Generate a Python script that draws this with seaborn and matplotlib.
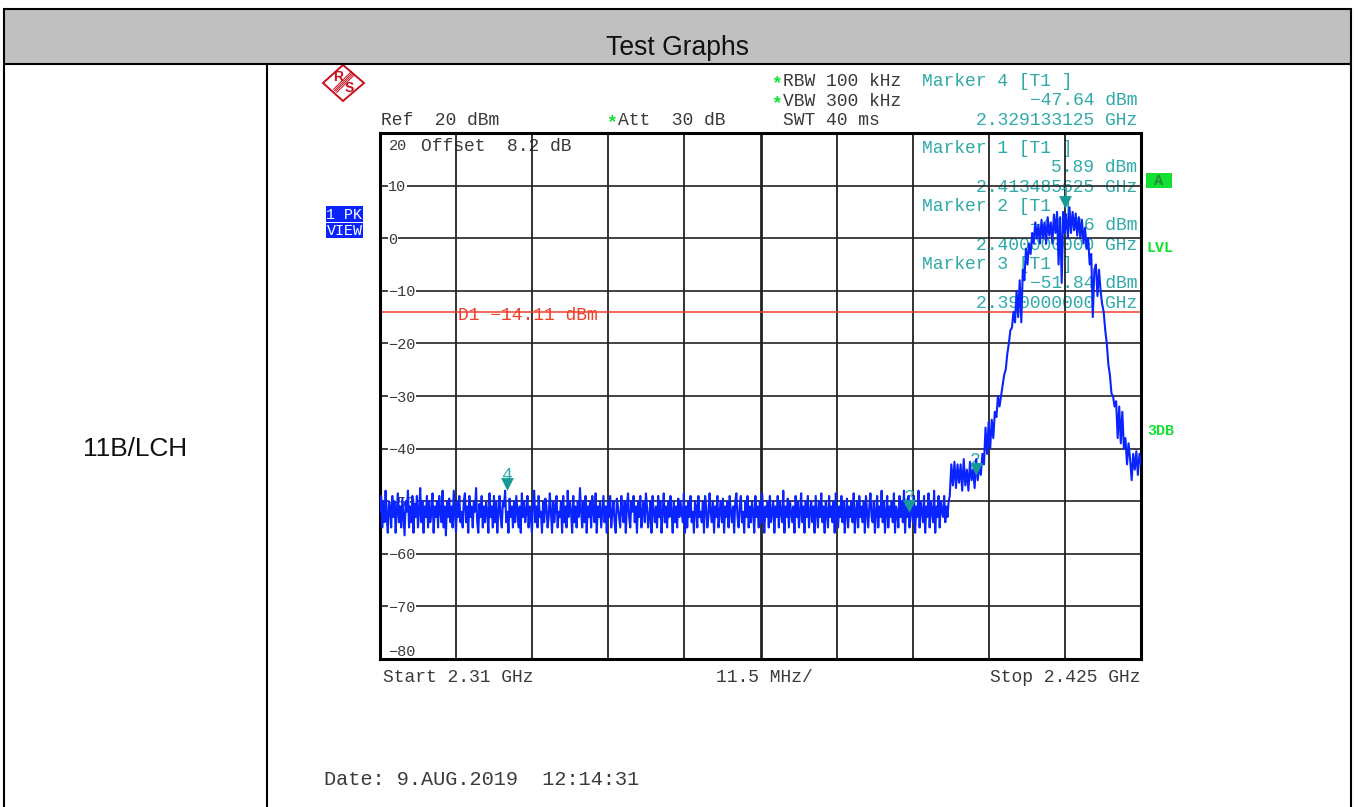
import numpy as np
import pandas as pd
import matplotlib
matplotlib.use("Agg")
import matplotlib.pyplot as plt
from matplotlib.patches import Rectangle, Polygon
import seaborn as sns

y_levels = [20, 10, 0, -10, -20, -30, -40, -50, -60, -70, -80]
y_labels = ["", "10", "0", "\u221210", "\u221220", "\u221230", "\u221240", "\u221250", "\u221260", "\u221270", "\u221280"]
x_divisions = [2.3215, 2.333, 2.3445, 2.356, 2.3675, 2.379, 2.3905, 2.402, 2.4135]
start_ghz, knee_ghz, stop_ghz = 2.31, 2.3961, 2.425
display_line_dbm = -14.11
marker_freq = [2.413485625, 2.4, 2.39, 2.329133125]
marker_level = [5.89, -44.86, -51.84, -47.64]
marker_name = ["1", "2", "3", "4"]

noise_level = [
-52,-49,-55,-50,-54,-48,-53,-56,-50,-51,-55,-49,-53,-50,-56,-52,-48.5,-54,-51,-55,
-49.5,-53,-56.5,-50,-52,-48,-55,-51,-54,-49,-56,-50.5,-53,-49,-55,-52,-47.5,-54,-50,-56,
-51,-53,-49,-55,-50,-54,-52,-48.5,-56,-51,-53,-50,-55,-49,-52,-54,-48,-55,-51,-56.5,
-50,-53,-49.5,-54,-51,-55,-48,-52,-56,-50,-53,-49,-54,-52,-55,-50,-48.5,-54,-51,-56,
-49,-53,-51,-55,-50,-52,-47.5,-54,-56,-50.5,-53,-49,-55,-51,-54,-50,-52,-56,-48.5,-53,
-51,-55,-49,-54,-50,-56,-52,-49,-53,-55,-50,-51,-48,-54,-52,-56,-49.5,-53,-51,-55,
-50,-54,-49,-52,-55,-51,-56,-48.5,-53,-50,-54,-52,-49,-55,-51,-53,-56,-50,-48,-54,
-51,-55,-49,-53,-52,-56,-50,-54,-49.5,-51,-55,-53,-48.5,-52,-56,-50,-54,-51,-49,-55,
-52,-53,-50,-56,-49,-54,-51,-55,-48,-53,-50,-52,-56,-49,-54,-51,-55,-50,-53,-47.5,
-52,-55,-50,-54,-49,-56,-51,-53,-50,-55,-49,-52,-54,-48.5,-56,-51,-53,-50,-55,-52,
-49,-54,-51,-56,-50,-53,-49,-55,-52,-50,-54,-56,-49.5,-51,-53,-55,-49,-52,-54,-50,
-56,-51,-48.5,-53,-55,-50,-52,-49,-54,-51,-56,-50,-53,-49,-55,-52,-50,-54,-48.5,-51,
-55,-53,-50,-56,-49,-52,-54,-51,-55,-49,-53,-50,-56,-52,-48.5,-54,-51,-55,-50,-53,
-49,-52,-56,-50,-54,-51,-55,-49.5,-53,-50,-52,-54,-48.5,-56,-51,-55,-50,-53,-49,-54,
-52,-56,-50,-51,-55,-49,-53,-52,-54,-50,-56,-49,-51,-55,-53,-48.5,-52,-54,-50,-56,
-51,-53,-49,-55,-52,-50,-54,-49.5,-56,-51,-53,-50,-55,-49,-52,-54,-51,-56,-50,-48.5,
-53,-55,-51,-49,-54,-52,-56,-50,-53,-49,-55,-51,-54,-50,-52,-56,-49,-53,-51,-55,
-50,-54,-48.5,-52,-56,-51,-53,-50,-55,-49,-54,-52,-50,-56,-51,-53,-49,-55,-50,-52,
-54,-48,-56,-51,-53,-49.5,-55,-50,-52,-54,-51,-56,-49,-53,-50,-55,-52,-48.5,-54,-51,
-56,-50,-53,-49,-55,-52,-50,-54,-51,-56,-49,-52,-55,-50,-53,-48.5,-54,-51,-56,-50,
-52,-55,-49,-53,-51,-54,-50,-56,-48.5,-52,-55,-51,-53,-49,-54,-50,-56,-52,-49.5,-55,
-51,-53,-50,-54,-48.5,-56,-52,-50,-55,-49,-53,-51,-54,-50,-56,-49,-52,-55,-51,-48.5,
-53,-54,-50,-56,-52,-49,-55,-51,-53,-48,-54,-50,-56,-52,-49,-55,-51,-53,-50,-54,
-48.5,-56,-51,-52,-55,-49,-53,-50,-54,-48,-56,-51,-53,-49,-55,-50,-52,-54,-49,-56,
-51,-53,-48,-55,-50,-52,-54,-49,-56,-51,-53,-48.5,-55,-50,-52,-54,-48,-56,-51,-53,
-49,-55,-50,-52,-53,-49,-54,-51,-53,-50,
]
signal_level = [
-49,-43,-47,-42.5,-47.5,-43,-46.5,-43,-48,-42,-47,-44,-48,-42.5,-46,-44,-47.5,-42,-46,-43,
-45,-41,-43,-36,-41,-35,-40,-34.5,-38,-33,-34,-30,-32,-30,-28,-26,-25,-22,-20,-17.5,-17,-14,
-16,-10,-15,-8,-16,-6,-8,-2,-5,-1,-3,1,-1,3,0,2.5,-1,3.5,0,3,-1,4,0.5,3,
-1,4.5,1,5,-5,4,-8.5,5,1,4.5,0,5.89,1,5,1.5,4.7,0.5,4,0,3.5,-1,2,-2,0,
-5,-3,-15,-6,-5,-11,-6,-10,-12.5,-14,-17.5,-20,-24,-26,-29.5,-30,-32,-31,-38,-32,
-39,-33,-40,-38,-43,-39,-42,-46,-41,-44,-40.5,-45,-41,-43,
]
freq = np.concatenate([np.linspace(start_ghz, knee_ghz, len(noise_level), endpoint=False),
                       np.linspace(knee_ghz, stop_ghz, len(signal_level))])
trace = pd.DataFrame({"freq": freq, "level": noise_level + signal_level})

W, H = 1358, 807
TEAL = "#2FA9A9"
DARK = "#3A3A3A"
GREEN = "#12E032"
BLUE = "#0A24FF"
RED = "#F0402E"
MONO = "Liberation Mono"
ARIAL = "Liberation Sans"

sns.set_theme(style="white")
plt.rcParams["font.family"] = [MONO, "DejaVu Sans"]

fig = plt.figure(figsize=(W / 100, H / 100), dpi=100, facecolor="white")

bg = fig.add_axes([0, 0, 1, 1], zorder=0)
bg.set_xlim(0, W)
bg.set_ylim(H, 0)
bg.axis("off")
bg.add_patch(Rectangle((4, 9), 1347, 54.5, fc="#C0C0C0", ec="none"))
for xs, ys in [((3, 1352), (9, 9)), ((3, 1352), (63.5, 63.5)), ((4, 4), (8, 807)),
               ((1351, 1351), (8, 807)), ((267, 267), (63, 807))]:
    bg.plot(xs, ys, color="black", lw=1.5, solid_capstyle="butt")
bg.text(677.5, 48, "Test Graphs", fontsize=19.1, family=ARIAL, color="#111111", ha="center", va="center")
bg.text(135.5, 448.5, "11B/LCH", fontsize=18.9, family=ARIAL, color="#111111", ha="center", va="center")

bg.add_patch(Polygon([(323, 83), (343, 65), (364, 83), (343, 101)], fc="white", ec="#C8101E", lw=1.4))
for d in (-1.6, -0.5, 0.5, 1.6):
    bg.plot([335 + d, 353 + d], [91 + d, 73 + d], color="#C8101E", lw=0.7)
bg.text(338, 77, "R", fontsize=10, family=ARIAL, weight="bold", color="#C8101E", ha="center", va="center")
bg.text(349, 88.5, "S", fontsize=10, family=ARIAL, weight="bold", color="#C8101E", ha="center", va="center")

FS = 12.95
def label(x, y, s, color=DARK, ha="left", fs=FS, weight="normal"):
    bg.text(x, y + fs * 0.36, s, fontsize=fs, color=color, ha=ha, va="baseline", family=MONO, weight=weight)

label(381, 120, "Ref  20 dBm")
label(606, 122, "*", GREEN, weight="bold")
label(618, 120, "Att  30 dB")
label(771, 83, "*", GREEN, weight="bold")
label(783, 81, "RBW 100 kHz")
label(771, 103, "*", GREEN, weight="bold")
label(783, 101, "VBW 300 kHz")
label(783, 120, "SWT 40 ms")
label(421, 146, "Offset  8.2 dB")
label(389, 146, "20", fs=11)
label(383, 677, "Start 2.31 GHz")
label(764, 677, "11.5 MHz/", ha="center")
label(1141, 677, "Stop 2.425 GHz", ha="right")
label(324, 780, "Date: 9.AUG.2019  12:14:31", fs=14.55)

rows = [
    ("Marker 4 [T1 ]", "\u221247.64 dBm", "2.329133125 GHz", 81),
    ("Marker 1 [T1 ]", "5.89 dBm", "2.413485625 GHz", 148),
    ("Marker 2 [T1 ]", "\u221244.86 dBm", "2.400000000 GHz", 206),
    ("Marker 3 [T1 ]", "\u221251.84 dBm", "2.390000000 GHz", 264),
]
for head, val, fr, y in rows:
    label(922, y, head, TEAL)
    label(1137, y + 19.5, val, TEAL, ha="right")
    label(1137, y + 39, fr, TEAL, ha="right")

label(458, 315, "D1 \u221214.11 dBm", RED)

bg.add_patch(Rectangle((1146, 173), 26, 15, fc=GREEN, ec="none"))
label(1159, 181, "A", "#2A8A3A", ha="center", fs=11, weight="bold")
label(1159.5, 248, "LVL", GREEN, ha="center", fs=10.8, weight="bold")
label(1161, 431, "3DB", GREEN, ha="center", fs=10.8, weight="bold")

bg.add_patch(Rectangle((326, 206), 37, 16, fc=BLUE, ec="none"))
bg.add_patch(Rectangle((326, 223), 37, 15, fc=BLUE, ec="none"))
label(344.5, 215, "1 PK", "white", ha="center", fs=10.8)
label(344.5, 231, "VIEW", "white", ha="center", fs=10.8)

ax = fig.add_axes([380 / W, 1 - 659 / H, 761 / W, 526 / H], zorder=1)
ax.patch.set_alpha(0)
sns.lineplot(data=trace, x="freq", y="level", ax=ax, color=BLUE, lw=1.5,
             estimator=None, errorbar=None, sort=False, zorder=3)
ax.set_xlim(start_ghz, stop_ghz)
ax.set_ylim(-80, 20)
ax.set_xlabel("")
ax.set_ylabel("")
ax.set_xticks(x_divisions)
ax.set_xticklabels([])
ax.tick_params(axis="x", length=0)
ax.set_yticks(y_levels)
ax.set_yticklabels(y_labels)
ax.tick_params(axis="y", direction="in", length=3, width=1.3, color="#222222",
               pad=-6, labelsize=11, labelcolor=DARK)
for lab, lev in zip(ax.get_yticklabels(), y_levels):
    lab.set_ha("left")
    lab.set_family(MONO)
    if lev != 20:
        lab.set_bbox(dict(fc="white", ec="none", pad=0.6))
    if lev == -80:
        lab.set_va("bottom")
ax.grid(True, color="#222222", lw=1.2)
ax.set_axisbelow(True)
for g, xv in zip(ax.get_xgridlines(), x_divisions):
    g.set_linewidth(2.0 if xv == 2.3675 else 1.3)
for s in ax.spines.values():
    s.set_visible(True)
    s.set_color("black")
    s.set_linewidth(2.2)
ax.axhline(display_line_dbm, color=RED, lw=1.1, zorder=2)

ax.scatter(marker_freq, [m + 1.0 for m in marker_level], marker="v", s=85,
           color="#159A96", linewidths=0, zorder=5)
for f, m, n in zip(marker_freq, marker_level, marker_name):
    ax.annotate(n, (f, m), xytext=(0, 9.5), textcoords="offset points", ha="center",
                va="center", color=TEAL, fontsize=FS, zorder=2.5, family=MONO)

fig.savefig("out.png", dpi=100, facecolor="white")
